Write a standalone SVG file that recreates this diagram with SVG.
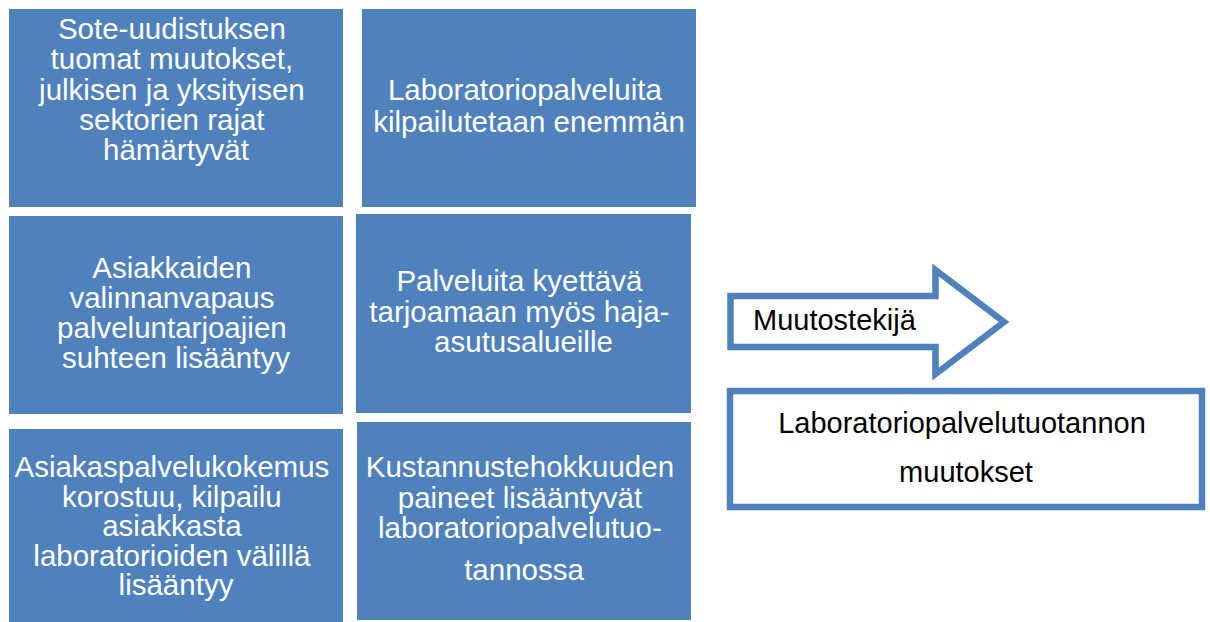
<svg xmlns="http://www.w3.org/2000/svg" width="1210" height="622" viewBox="0 0 1210 622">
  <style>
    .box { fill: #4F81BD; }
    .btxt { font-family: "Liberation Sans", Arial, sans-serif; font-size: 29.5px; fill: #ffffff; text-anchor: middle; }
    .dtxt { font-family: "Liberation Sans", Arial, sans-serif; font-size: 29px; fill: #000000; }
    .outline { fill: #ffffff; stroke: #4F81BD; stroke-width: 6.5; stroke-linejoin: miter; }
  </style>

  <!-- factor boxes -->
  <g id="sote">
    <rect class="box" x="9" y="9" width="334" height="198"/>
    <text class="btxt">
      <tspan x="176" y="39">Sote-uudistuksen</tspan>
      <tspan x="176" y="69">tuomat muutokset,</tspan>
      <tspan x="176" y="99.5">julkisen ja yksityisen</tspan>
      <tspan x="176" y="130">sektorien rajat</tspan>
      <tspan x="176" y="160">hämärtyvät</tspan>
    </text>
  </g>

  <g id="kilpailutus">
    <rect class="box" x="362" y="9" width="334" height="198"/>
    <text class="btxt">
      <tspan x="529" y="100">Laboratoriopalveluita</tspan>
      <tspan x="529" y="132">kilpailutetaan enemmän</tspan>
    </text>
  </g>

  <g id="valinnanvapaus">
    <rect class="box" x="9" y="216" width="334" height="198"/>
    <text class="btxt">
      <tspan x="176" y="278">Asiakkaiden</tspan>
      <tspan x="176" y="308">valinnanvapaus</tspan>
      <tspan x="176" y="338">palveluntarjoajien</tspan>
      <tspan x="176" y="368">suhteen lisääntyy</tspan>
    </text>
  </g>

  <g id="haja-asutus">
    <rect class="box" x="356" y="214" width="335" height="199"/>
    <text class="btxt">
      <tspan x="523.5" y="291">Palveluita kyettävä</tspan>
      <tspan x="523.5" y="321.5">tarjoamaan myös haja-</tspan>
      <tspan x="523.5" y="352">asutusalueille</tspan>
    </text>
  </g>

  <g id="asiakaskokemus">
    <rect class="box" x="9" y="429" width="334" height="193"/>
    <text class="btxt">
      <tspan x="176" y="477">Asiakaspalvelukokemus</tspan>
      <tspan x="176" y="506.5">korostuu, kilpailu</tspan>
      <tspan x="176" y="536">asiakkasta</tspan>
      <tspan x="176" y="565.5">laboratorioiden välillä</tspan>
      <tspan x="176" y="595">lisääntyy</tspan>
    </text>
  </g>

  <g id="kustannukset">
    <rect class="box" x="357" y="422" width="334" height="198"/>
    <text class="btxt">
      <tspan x="524" y="477">Kustannustehokkuuden</tspan>
      <tspan x="524" y="508">paineet lisääntyvät</tspan>
      <tspan x="524" y="538">laboratoriopalvelutuo-</tspan>
      <tspan x="524" y="580">tannossa</tspan>
    </text>
  </g>

  <!-- legend: arrow shape and result box -->
  <g id="muutostekija">
    <path class="outline" d="M730.5,296 L935.5,296 L935.5,270 L1004,322 L935.5,374 L935.5,347 L730.5,347 Z"/>
    <text class="dtxt" x="753" y="330">Muutostekijä</text>
  </g>

  <g id="muutokset">
    <rect class="outline" x="730" y="391" width="472" height="116"/>
    <text class="dtxt" text-anchor="middle">
      <tspan x="966" y="433">Laboratoriopalvelutuotannon</tspan>
      <tspan x="966" y="482">muutokset</tspan>
    </text>
  </g>

  <g id="connectors"/>
</svg>
